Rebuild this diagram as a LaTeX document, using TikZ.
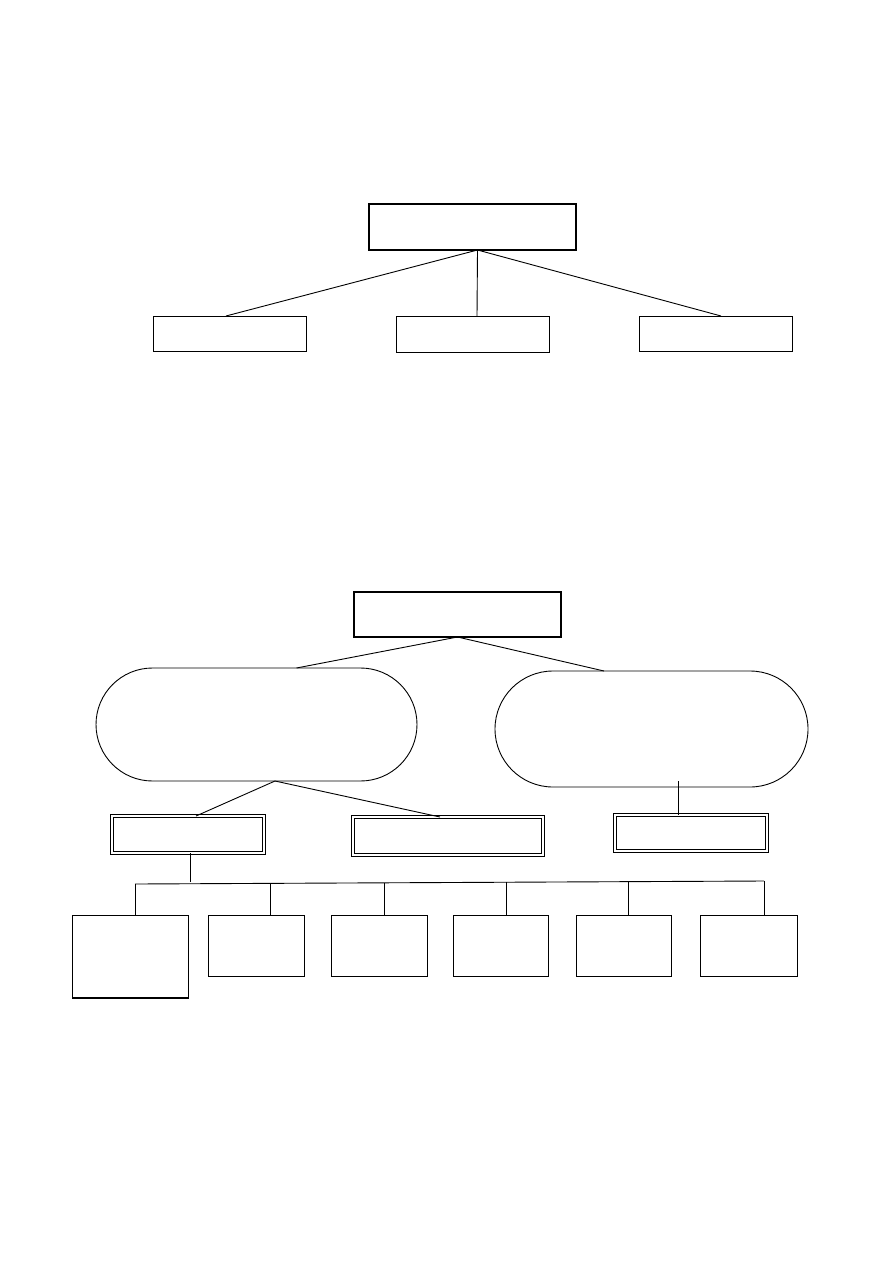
\documentclass[tikz,border=0pt]{standalone}
\usepackage{tikz}
\usetikzlibrary{positioning,shapes,shapes.misc,calc}

\tikzset{
  box/.style={draw, rectangle, line width=1pt, inner sep=0pt, outer sep=0pt},
  topbox/.style={box, line width=2pt},
  oval/.style={draw, rounded rectangle, line width=0.9pt, inner sep=0pt, outer sep=0pt},
  dbox/.style={draw, rectangle, double, double distance=2.2pt, line width=0.9pt, inner sep=0pt, outer sep=0pt},
  link/.style={line width=0.9pt}
}

\begin{document}
\begin{tikzpicture}[x=1pt, y=-1pt]
\useasboundingbox (0,0) rectangle (893,1263);

% First tree
\node[topbox, minimum width=207pt, minimum height=46pt] (root1) at (472.5,227) {};
\node[box, minimum width=153pt, minimum height=35pt] (c1) at (229.5,333.5) {};
\node[box, minimum width=153pt, minimum height=36pt] (c2) at (472.5,334) {};
\node[box, minimum width=153pt, minimum height=35pt] (c3) at (715.5,333.5) {};

\draw[link] ([xshift=5pt]root1.south) -- ([xshift=-3.5pt]c1.north);
\draw[link] ([xshift=5pt]root1.south) -- ([xshift=4.5pt]c2.north);
\draw[link] ([xshift=5pt]root1.south) -- ([xshift=5.5pt]c3.north);

% Second tree
\node[topbox, minimum width=207pt, minimum height=45pt] (root2) at (457.5,614.5) {};
\node[oval, minimum width=321pt, minimum height=113pt] (ovalL) at (256.5,724.5) {};
\node[oval, minimum width=313pt, minimum height=116pt] (ovalR) at (651.5,729) {};

\draw[link] (root2.south) -- ([xshift=40pt]ovalL.north);
\draw[link] (root2.south) -- ([xshift=-47.5pt]ovalR.north);

% Double framed boxes
\node[dbox, minimum width=152pt, minimum height=37pt] (boxA) at (188,834.5) {};
\node[dbox, minimum width=190pt, minimum height=38pt] (boxB) at (448,836) {};
\node[dbox, minimum width=152pt, minimum height=36pt] (boxC) at (691,833) {};

\draw[link] ([xshift=18.5pt]ovalL.south) -- ([xshift=8pt]boxA.north);
\draw[link] ([xshift=18.5pt]ovalL.south) -- ([xshift=-8pt]boxB.north);
\coordinate (rdrop) at (678,781);
\draw[link] (rdrop) -- (rdrop |- boxC.north);

% Leaves
\node[box, minimum width=116pt, minimum height=83pt] (leaf1) at (130,956.5) {};
\node[box, minimum width=96pt, minimum height=61pt] (leaf2) at (256,945.5) {};
\node[box, minimum width=96pt, minimum height=61pt] (leaf3) at (379,945.5) {};
\node[box, minimum width=95pt, minimum height=61pt] (leaf4) at (500.5,945.5) {};
\node[box, minimum width=95pt, minimum height=61pt] (leaf5) at (623.5,945.5) {};
\node[box, minimum width=97pt, minimum height=61pt] (leaf6) at (748.5,945.5) {};
\draw[line width=2pt] (leaf1.south west) -- (leaf1.south east);

% Bus
\coordinate (busL) at (135,884);
\coordinate (busR) at (764,881);
\draw[link] (busL) -- (busR);
\draw[link] ([xshift=2pt]boxA.south) -- ++(0,29);
\draw[link] ([xshift=5pt]leaf1.north) -- (busL);
\draw[link] ([xshift=14pt]leaf2.north) -- ++(0,-31.6);
\draw[link] ([xshift=5pt]leaf3.north) -- ++(0,-32.2);
\draw[link] ([xshift=5.5pt]leaf4.north) -- ++(0,-32.8);
\draw[link] ([xshift=4.5pt]leaf5.north) -- ++(0,-33.4);
\draw[link] ([xshift=15.5pt]leaf6.north) -- (busR);

\end{tikzpicture}
\end{document}
